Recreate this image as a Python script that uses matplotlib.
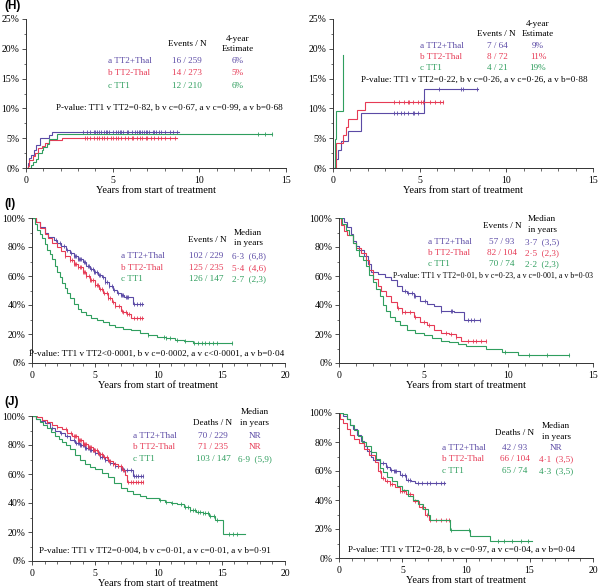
import numpy as np
import matplotlib
matplotlib.use("Agg")
import matplotlib.pyplot as plt
from matplotlib.ticker import MultipleLocator, FuncFormatter

plt.rcParams['font.family'] = ['Liberation Serif', 'DejaVu Serif']

COL = ['#5b4aa5', '#e63a55', '#2f9e5e']
W, H = 600, 588

# ---------------- data ----------------
groups = ['a TT2+Thal', 'b TT2-Thal', 'c TT1']

# Panel H left (cumulative incidence, %)
h1_a_t = [0, 0.1, 0.2, 0.3, 0.45, 0.6, 0.8, 1.1, 1.3, 1.5]
h1_a_v = [0, 0.8, 1.6, 2.2, 3.0, 3.8, 5.0, 5.0, 5.6, 6.1]
h1_a_end = 8.8
h1_a_cens = [3.3, 3.5, 3.7, 3.9, 4.0, 4.1, 4.2, 4.3, 4.5, 4.6, 4.7, 4.8, 5.0, 5.2, 5.3, 5.4, 5.5,
             5.6, 5.8, 5.9, 6.1, 6.3, 6.4, 6.5, 6.6, 6.7, 6.8, 6.9, 7.0, 7.1, 7.3, 7.4, 7.5, 7.7,
             7.8, 8.0, 8.3, 8.5, 8.7]
h1_b_t = [0, 0.1, 0.2, 0.4, 0.5, 0.7, 0.9, 1.1, 1.3, 2.1]
h1_b_v = [0, 0.4, 1.3, 2.0, 2.6, 3.3, 3.7, 4.2, 4.7, 5.1]
h1_b_end = 8.7
h1_b_cens = [3.4, 3.5, 3.7, 3.9, 4.1, 4.2, 4.4, 4.5, 4.7, 4.9, 5.0, 5.2, 5.3, 5.5, 5.7, 5.9, 6.1,
             6.2, 6.4, 6.6, 6.7, 6.9, 7.0, 7.2, 7.4, 7.6, 7.8, 8.0, 8.3, 8.6]
h1_c_t = [0, 0.3, 0.4, 0.55, 0.7, 0.9, 1.0, 1.2, 1.35, 1.8]
h1_c_v = [0, 0.5, 1.0, 1.5, 2.5, 3.0, 3.5, 4.0, 4.8, 5.7]
h1_c_end = 14.2
h1_c_cens = [13.4, 13.8, 14.2]
h1_counts = ['16 / 259', '14 / 273', '12 / 210']
h1_est = ['6%', '5%', '6%']
h1_p = 'P-value: TT1 v TT2=0·82, b v c=0·67, a v c=0·99, a v b=0·68'

# Panel H right
h2_a_t = [0, 0.1, 0.3, 0.45, 0.85, 1.6, 5.25]
h2_a_v = [0, 1.45, 3.0, 4.5, 6.2, 9.3, 13.2]
h2_a_end = 8.35
h2_a_cens = [3.5, 3.7, 3.9, 4.1, 4.3, 4.6, 4.7, 4.9, 6.1, 7.4, 7.5, 8.3]
h2_b_t = [0, 0.2, 0.6, 0.75, 0.85, 1.4, 1.85]
h2_b_v = [0, 4.2, 5.5, 6.9, 8.3, 9.7, 11.1]
h2_b_end = 6.35
h2_b_cens = [3.5, 3.8, 4.1, 4.3, 4.4, 4.6, 4.9, 5.1, 5.2, 5.6, 5.9, 6.2, 6.35]
h2_c_t = [0, 0.1, 0.2, 0.55]
h2_c_v = [0, 4.8, 9.5, 19.0]
h2_c_end = 0.55
h2_c_cens = []
h2_counts = ['7 / 64', '8 / 72', '4 / 21']
h2_est = ['9%', '11%', '19%']
h2_p = 'P-value: TT1 v TT2=0·22, b v c=0·26, a v c=0·26, a v b=0·88'

# Panel I left (survival, %)
i1_a_t = [0, 0.3, 0.6, 1.0, 1.3, 1.7, 2.0, 2.3, 2.7, 3.0, 3.3, 3.6, 4.0, 4.3, 4.6, 4.9, 5.2, 5.5,
          5.8, 6.1, 6.4, 6.7, 7.0, 7.3, 8.0]
i1_a_v = [100, 97, 94, 90, 87, 85, 83, 81, 78, 76, 74, 72, 70, 67, 65, 63, 61, 59, 56, 53, 50.5,
          48.5, 47, 45.5, 40.5]
i1_a_end = 8.8
i1_a_cens = [1.9, 2.2, 2.5, 2.8, 3.1, 3.3, 3.4, 3.5, 3.6, 3.7, 3.8, 3.9, 4.1, 4.2, 4.4, 4.5, 4.7,
             4.8, 4.9, 5.0, 5.1, 5.3, 5.4, 5.6, 5.8, 5.9, 6.1, 6.3, 6.5, 6.8, 7.0, 7.1, 7.2, 7.4,
             7.5, 7.6, 8.1, 8.3, 8.5, 8.7]
i1_b_t = [0, 0.3, 0.6, 1.0, 1.3, 1.6, 2.0, 2.3, 2.6, 3.0, 3.3, 3.6, 4.0, 4.3, 4.6, 5.0, 5.3, 5.6,
          6.0, 6.3, 6.6, 7.0, 7.2, 7.5, 7.8]
i1_b_v = [100, 97, 93, 89, 86, 83, 80, 77, 74, 71, 68, 66, 63, 60, 57, 54, 51, 48, 45, 42, 39, 36,
          35, 34, 31]
i1_b_end = 8.8
i1_b_cens = [2.6, 3.0, 3.2, 3.3, 3.4, 3.5, 3.6, 3.8, 3.9, 4.0, 4.1, 4.2, 4.3, 4.5, 4.6, 4.7, 4.8,
             5.0, 5.1, 5.2, 5.4, 5.5, 5.7, 5.9, 6.0, 6.2, 6.4, 6.6, 6.9, 7.1, 7.2, 7.4, 7.5, 7.7,
             8.1, 8.3, 8.5, 8.7]
i1_c_t = [0, 0.2, 0.4, 0.6, 0.8, 1.0, 1.2, 1.4, 1.6, 1.8, 2.0, 2.2, 2.4, 2.6, 2.8, 3.0, 3.3, 3.6,
          3.9, 4.3, 4.7, 5.1, 5.6, 6.1, 6.6, 7.2, 7.8, 8.5, 9.2, 9.9, 10.6, 11.3, 12.0, 12.7]
i1_c_v = [100, 96, 92, 89, 86, 82, 78, 75, 72, 67, 63, 59, 55, 51.5, 48.5, 45, 41, 37.5, 35, 33,
          31, 29.5, 28, 26, 24.5, 23.5, 22.5, 21, 19.5, 18, 17, 16, 15, 13.8]
i1_c_end = 15.8
i1_c_cens = [9.2, 10.4, 10.6, 10.9, 11.5, 12.1, 12.8, 13.1, 13.4, 13.7, 14.0, 14.3, 14.6, 15.8]
i1_counts = ['102 / 229', '125 / 235', '126 / 147']
i1_med = ['6·3  (6,8)', '5·4  (4,6)', '2·7  (2,3)']
i1_p = 'P-value: TT1 v TT2<0·0001, b v c=0·0002, a v c<0·0001, a v b=0·04'

# Panel I right
i2_a_t = [0, 0.3, 0.5, 0.7, 0.85, 1.0, 1.2, 1.5, 1.7, 1.9, 2.3, 2.7, 3.1, 3.4, 3.7, 4.0, 4.4,
          4.8, 5.2, 5.6, 6.0, 6.8, 7.4]
i2_a_v = [100, 97, 94, 89, 84, 81, 78, 74, 68, 63, 61.5, 59.5, 57, 53, 50, 48, 46, 43, 41, 39,
          36, 35, 30]
i2_a_end = 8.3
i2_a_cens = [3.9, 4.1, 4.3, 4.4, 4.5, 5.1, 6.0, 6.6, 6.7, 7.6, 7.8, 8.0, 8.3]
i2_b_t = [0, 0.1, 0.3, 0.5, 0.8, 1.0, 1.3, 1.6, 1.8, 2.0, 2.3, 2.5, 2.8, 3.1, 3.4, 3.7, 4.4, 4.8,
          5.2, 5.6, 6.0, 6.5, 6.9, 7.2]
i2_b_v = [100, 95, 91, 88, 83, 79, 76, 71, 64, 58, 53, 50, 46, 42, 38, 35, 32, 28, 26, 23, 21, 20,
          18, 15]
i2_b_end = 8.7
i2_b_cens = [3.5, 3.7, 3.9, 4.2, 4.5, 5.0, 5.3, 6.3, 6.6, 6.9, 7.6, 7.9, 8.1, 8.4, 8.7]
i2_c_t = [0, 0.2, 0.4, 0.6, 0.8, 1.0, 1.2, 1.4, 1.6, 1.8, 2.0, 2.2, 2.4, 2.6, 2.8, 3.0, 3.3, 3.6,
          4.0, 4.5, 5.0, 5.5, 6.0, 6.5, 7.0, 7.5, 8.7, 9.6, 10.6]
i2_c_v = [100, 96, 92, 88, 83, 78, 74, 71, 67, 61, 56, 51, 46, 40, 36, 32, 29, 26, 23, 21, 19, 17,
          15.5, 14.5, 13, 11.5, 10, 7.5, 5.3]
i2_c_end = 13.6
i2_c_cens = [9.8, 11.2, 12.3, 13.6]
i2_counts = ['57 / 93', '82 / 104', '70 / 74']
i2_med = ['3·7  (3,5)', '2·5  (2,3)', '2·2  (2,3)']
i2_p = 'P-value: TT1 v TT2=0·01, b v c=0·23, a v c=0·001, a v b=0·03'

# Panel J left
j1_a_t = [0, 0.3, 0.6, 1.0, 1.4, 1.8, 2.2, 2.6, 3.0, 3.4, 3.8, 4.2, 4.6, 5.0, 5.4, 5.8, 6.2, 6.6,
          7.0, 7.3, 8.0]
j1_a_v = [100, 98, 96.5, 95, 92, 90, 88, 86, 83.5, 81.5, 80, 78, 76.5, 74.5, 72, 70, 67.5, 65.5,
          63.5, 62.8, 58.5]
j1_a_end = 8.8
j1_a_cens = [1.6, 2.3, 2.8, 3.3, 3.5, 3.6, 3.7, 3.8, 3.9, 4.0, 4.1, 4.2, 4.3, 4.4, 4.5, 4.6, 4.7,
             4.8, 4.9, 5.0, 5.2, 5.3, 5.4, 5.5, 5.7, 5.8, 6.0, 6.2, 6.4, 6.6, 6.8, 7.0, 7.2, 7.3,
             7.5, 7.8, 8.1, 8.2, 8.4, 8.6, 8.8]
j1_b_t = [0, 0.4, 0.8, 1.2, 1.6, 2.0, 2.4, 2.8, 3.2, 3.6, 4.0, 4.4, 4.8, 5.2, 5.6, 6.0, 6.4, 6.8,
          7.1, 7.35, 7.5]
j1_b_v = [100, 99, 97.5, 96, 94, 92.5, 91, 88.5, 86, 83.5, 81, 78.5, 76.5, 74, 71.5, 69, 67, 65.5,
          62.5, 59, 54.5]
j1_b_end = 8.8
j1_b_cens = [1.2, 2.0, 2.7, 3.1, 3.3, 3.4, 3.5, 3.6, 3.7, 3.8, 3.9, 4.0, 4.1, 4.2, 4.3, 4.4, 4.5,
             4.6, 4.7, 4.8, 4.9, 5.0, 5.1, 5.3, 5.4, 5.5, 5.7, 5.9, 6.1, 6.2, 6.4, 6.6, 6.8, 7.0,
             7.2, 7.6, 7.8, 8.0, 8.2, 8.4, 8.6, 8.8]
j1_c_t = [0, 0.3, 0.6, 0.9, 1.2, 1.5, 1.8, 2.1, 2.4, 2.7, 3.0, 3.4, 3.8, 4.2, 4.6, 5.0, 5.5, 6.0,
          6.5, 7.0, 7.5, 8.0, 8.5, 9.0, 10.0, 10.5, 11.0, 11.5, 12.0, 12.5, 13.0, 13.5, 14.0, 14.5,
          15.1]
j1_c_v = [100, 98, 96, 94, 91.5, 89, 86.5, 84, 82, 80, 77, 73, 69.5, 67, 65, 63.5, 61, 58, 54,
          50.5, 48, 46.5, 45, 43.5, 42, 41, 40, 39, 37, 35, 34, 33, 31, 28.5, 18.5]
j1_c_end = 16.8
j1_c_cens = [10.1, 10.6, 11.1, 11.8, 12.1, 12.3, 12.5, 12.7, 12.9, 13.1, 13.3, 13.5, 13.7, 13.9,
             14.1, 14.4, 14.6, 15.6, 15.9, 16.2]
j1_counts = ['70 / 229', '71 / 235', '103 / 147']
j1_med = ['NR', 'NR', '6·9  (5,9)']
j1_p = 'P-value: TT1 v TT2=0·004, b v c=0·01, a v c=0·01, a v b=0·91'

# Panel J right
j2_a_t = [0, 0.3, 0.6, 0.9, 1.1, 1.4, 1.7, 2.0, 2.2, 2.5, 2.7, 3.2, 3.7, 4.0, 4.3, 4.8, 5.3, 5.7,
          6.0]
j2_a_v = [100, 98, 96, 92, 89, 85, 81, 77, 74, 70, 67.5, 65.5, 63, 61, 60, 57.5, 54, 53, 51.5]
j2_a_end = 8.35
j2_a_cens = [3.5, 3.8, 4.1, 4.3, 4.4, 4.5, 5.0, 5.2, 5.4, 5.6, 6.2, 6.5, 6.9, 7.2, 7.6, 8.0, 8.3]
j2_b_t = [0, 0.1, 0.3, 0.6, 0.9, 1.2, 1.6, 2.0, 2.4, 2.8, 3.1, 3.3, 3.6, 4.0, 4.4, 4.8, 5.3, 5.8,
          6.3, 6.8, 7.1]
j2_b_v = [100, 96, 93, 89, 85, 82, 79, 75, 71, 66, 60, 55, 53, 51, 49, 46, 44, 39, 35, 30, 26.5]
j2_b_end = 8.75
j2_b_cens = [3.2, 3.5, 3.8, 4.0, 4.2, 4.8, 5.0, 5.1, 5.6, 6.0, 6.5, 6.9, 7.2, 7.6, 8.0, 8.4, 8.7]
j2_c_t = [0, 0.3, 0.6, 0.9, 1.2, 1.5, 1.8, 2.1, 2.5, 2.9, 3.2, 3.5, 3.8, 4.2, 4.6, 5.0, 5.4, 5.8,
          6.2, 6.6, 7.0, 7.2, 8.75, 10.3, 11.9]
j2_c_v = [100, 99, 96, 92, 88, 84, 80, 77, 73, 68, 62, 59, 56, 53, 50, 47, 43, 40, 37, 34, 30,
          26.5, 19.5, 14.9, 11.8]
j2_c_end = 15.2
j2_c_cens = [8.8, 10.2, 12.5, 13.0, 13.6, 14.3, 14.9]
j2_counts = ['42 / 93', '66 / 104', '65 / 74']
j2_med = ['NR', '4·1  (3,5)', '4·3  (3,5)']
j2_p = 'P-value: TT1 v TT2=0·28, b v c=0·97, a v c=0·04, a v b=0·04'

XLABEL = 'Years from start of treatment'

# ---------------- drawing ----------------
fig = plt.figure(figsize=(W / 100, H / 100), dpi=100)
fig.patch.set_facecolor('white')


def fx(x):
    return x / W


def fy(y):
    return 1 - y / H


def add_ax(x0, y0, x1, y1):
    return fig.add_axes([fx(x0), fy(y1), (x1 - x0) / W, (y1 - y0) / H])


def step_val(t, v, q):
    idx = np.searchsorted(np.asarray(t), np.asarray(q), side='right') - 1
    return np.asarray(v)[idx]


def draw_curve(ax, t, v, t_end, cens, color):
    tt = list(t) + [t_end]
    vv = list(v) + [v[-1]]
    ax.step(tt, vv, where='post', color=color, lw=0.8, solid_joinstyle='miter')
    if len(cens):
        ax.plot(cens, step_val(t, v, cens), ls='none', marker='|', ms=3.2, mew=0.6,
                color=color)


def setup(ax, xmax, ymax, ymaj, ymin_):
    ax.set_xlim(0, xmax)
    ax.set_ylim(0, ymax)
    for s in ['top', 'right']:
        ax.spines[s].set_visible(False)
    for s in ['left', 'bottom']:
        ax.spines[s].set_linewidth(0.7)
        ax.spines[s].set_color('#333333')
    ax.xaxis.set_major_locator(MultipleLocator(5))
    ax.xaxis.set_minor_locator(MultipleLocator(1))
    ax.yaxis.set_major_locator(MultipleLocator(ymaj))
    ax.yaxis.set_minor_locator(MultipleLocator(ymin_))
    ax.yaxis.set_major_formatter(FuncFormatter(lambda v, p: f'{v:.0f}%'))
    ax.tick_params(which='major', length=3.2, width=0.6, labelsize=7, pad=1.5,
                   direction='out', color='#333333')
    ax.tick_params(which='minor', length=1.8, width=0.5, direction='out', color='#333333')
    ax.tick_params(axis='x', which='major', pad=2.5)
    ax.set_xlabel(XLABEL, fontsize=7.5, labelpad=0.5)
    for lab in ax.get_xticklabels() + ax.get_yticklabels():
        lab.set_fontsize(7)


def ftext(x, y, s, color='black', ha='center', size=6.6, **kw):
    fig.text(fx(x), fy(y), s, color=color, ha=ha, va='center', fontsize=size, **kw)


def table(x_lab, x_cnt, x_med, ys, counts, meds):
    for i in range(3):
        ftext(x_lab, ys[i], groups[i], color=COL[i], ha='left')
        ftext(x_cnt, ys[i], counts[i], color=COL[i])
        ftext(x_med, ys[i], meds[i], color=COL[i])


# H left
ax = add_ax(26, 19, 286, 168)
draw_curve(ax, h1_a_t, h1_a_v, h1_a_end, h1_a_cens, COL[0])
draw_curve(ax, h1_b_t, h1_b_v, h1_b_end, h1_b_cens, COL[1])
draw_curve(ax, h1_c_t, h1_c_v, h1_c_end, h1_c_cens, COL[2])
setup(ax, 15, 25, 5, 2.5)
ftext(4, 6, '(H)', ha='left', size=8.5, family=['Liberation Sans'], weight='bold')
ftext(187, 44, 'Events / N')
ftext(238, 39, '4-year')
ftext(238, 49, 'Estimate')
table(108, 187, 238, [61, 73, 86], h1_counts, h1_est)
ftext(169, 108, h1_p)

# H right
ax = add_ax(333, 19, 593, 168)
draw_curve(ax, h2_a_t, h2_a_v, h2_a_end, h2_a_cens, COL[0])
draw_curve(ax, h2_b_t, h2_b_v, h2_b_end, h2_b_cens, COL[1])
draw_curve(ax, h2_c_t, h2_c_v, h2_c_end, h2_c_cens, COL[2])
setup(ax, 15, 25, 5, 2.5)
ftext(538, 24, '4-year')
ftext(538, 34, 'Estimate')
ftext(496, 34, 'Events / N')
table(420, 497, 538, [46, 57, 68], h2_counts, h2_est)
ftext(474, 80, h2_p)

# I left
ax = add_ax(32, 218, 285, 363)
draw_curve(ax, i1_a_t, i1_a_v, i1_a_end, i1_a_cens, COL[0])
draw_curve(ax, i1_b_t, i1_b_v, i1_b_end, i1_b_cens, COL[1])
draw_curve(ax, i1_c_t, i1_c_v, i1_c_end, i1_c_cens, COL[2])
setup(ax, 20, 100, 20, 10)
ftext(4, 204, '(I)', ha='left', size=8.5, family=['Liberation Sans'], weight='bold')
ftext(248, 233, 'Median')
ftext(248, 243, 'in years')
ftext(207, 240, 'Events / N')
table(121, 206, 249, [256, 268, 279], i1_counts, i1_med)
ftext(157, 354, i1_p)

# I right
ax = add_ax(339, 218, 593, 363)
draw_curve(ax, i2_a_t, i2_a_v, i2_a_end, i2_a_cens, COL[0])
draw_curve(ax, i2_b_t, i2_b_v, i2_b_end, i2_b_cens, COL[1])
draw_curve(ax, i2_c_t, i2_c_v, i2_c_end, i2_c_cens, COL[2])
setup(ax, 15, 100, 20, 10)
ftext(542, 219, 'Median')
ftext(542, 230, 'in years')
ftext(502, 226, 'Events / N')
table(428, 502, 542, [242, 253, 264], i2_counts, i2_med)
ftext(493, 276, i2_p, size=5.7)

# J left
ax = add_ax(32, 416, 285, 561)
draw_curve(ax, j1_a_t, j1_a_v, j1_a_end, j1_a_cens, COL[0])
draw_curve(ax, j1_b_t, j1_b_v, j1_b_end, j1_b_cens, COL[1])
draw_curve(ax, j1_c_t, j1_c_v, j1_c_end, j1_c_cens, COL[2])
setup(ax, 20, 100, 20, 10)
ftext(4, 402, '(J)', ha='left', size=8.5, family=['Liberation Sans'], weight='bold')
ftext(255, 412, 'Median')
ftext(255, 423, 'in years')
ftext(213, 423, 'Deaths / N')
table(133, 213, 255, [436, 447, 459], j1_counts, j1_med)
ftext(155, 551, j1_p)

# J right
ax = add_ax(339, 413, 593, 558)
draw_curve(ax, j2_a_t, j2_a_v, j2_a_end, j2_a_cens, COL[0])
draw_curve(ax, j2_b_t, j2_b_v, j2_b_end, j2_b_cens, COL[1])
draw_curve(ax, j2_c_t, j2_c_v, j2_c_end, j2_c_cens, COL[2])
setup(ax, 20, 100, 20, 10)
ftext(556, 426, 'Median')
ftext(556, 437, 'in years')
ftext(515, 433, 'Deaths / N')
table(442, 515, 556, [448, 459, 471], j2_counts, j2_med)
ftext(462, 550, j2_p)

fig.savefig('out.png', dpi=100, facecolor='white')
